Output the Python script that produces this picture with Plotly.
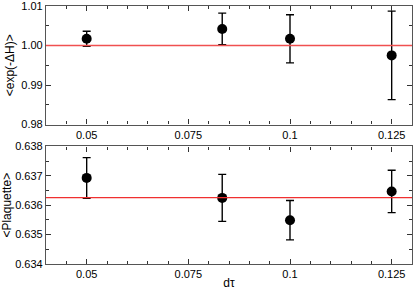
import plotly.graph_objects as go
from plotly.subplots import make_subplots

dtau = [0.05, 1/12, 0.1, 0.125]

exp_dh = [1.0017, 1.0042, 1.0017, 0.9975]
exp_dh_err = [0.0019, 0.0040, 0.0061, 0.0112]
exp_dh_ref = 1.0

plaq = [0.63693, 0.63625, 0.63549, 0.63647]
plaq_err = [0.00069, 0.00080, 0.00067, 0.00072]
plaq_ref = 0.63626

fnt = 'Liberation Sans, Arial, sans-serif'

fig = make_subplots(rows=2, cols=1)

for row, y, err in [(1, exp_dh, exp_dh_err), (2, plaq, plaq_err)]:
    fig.add_trace(go.Scatter(
        x=dtau, y=y, mode='markers',
        marker=dict(color='black', size=10),
        error_y=dict(type='data', array=err, color='black', thickness=1.4, width=4),
        showlegend=False), row=row, col=1)

fig.add_hline(y=exp_dh_ref, line=dict(color='#f05050', width=1.5), row=1, col=1)
fig.add_hline(y=plaq_ref, line=dict(color='#f03030', width=1.2), row=2, col=1)

xax = dict(range=[0.04, 0.13], tickvals=[0.05, 0.075, 0.1, 0.125], ticktext=['0.05', '0.075', '0.1', '0.125'],
           ticks='inside', ticklen=5, tickcolor='#333', showline=True, linecolor='#555', linewidth=1.2,
           mirror='ticks', showgrid=False, zeroline=False, automargin=False,
           minor=dict(ticks='inside', dtick=0.005, tick0=0.05, ticklen=3, tickcolor='#333'),
           tickfont=dict(size=11, color='black', family=fnt))
yax = dict(ticks='inside', ticklen=5, tickcolor='#333', showline=True, linecolor='#555', linewidth=1.2,
           mirror='ticks', showgrid=False, zeroline=False, automargin=False, ticklabeloverflow='allow',
           tickfont=dict(size=11, color='black', family=fnt))

fig.update_xaxes(**xax)
fig.update_yaxes(**yax)
fig.update_xaxes(title=dict(text='dτ', font=dict(size=12, family=fnt, color='black'), standoff=2), row=2, col=1)

fig.update_yaxes(range=[0.98, 1.01], dtick=0.01, tickformat='.2f',
                 minor=dict(ticks='inside', dtick=0.005, ticklen=3, tickcolor='#333'),
                 title=dict(text='<exp(-ΔH)>', font=dict(size=12, family=fnt, color='black'), standoff=4),
                 domain=[0.5405, 1.0], row=1, col=1)
fig.update_yaxes(range=[0.634, 0.638], dtick=0.001, tickformat='.3f',
                 minor=dict(ticks='inside', dtick=0.0005, ticklen=3, tickcolor='#333'),
                 title=dict(text='<Plaquette>', font=dict(size=12, family=fnt, color='black'), standoff=4),
                 domain=[0.0, 0.4556], row=2, col=1)

fig.update_layout(width=415, height=290, margin=dict(l=46, r=3, t=6, b=26),
                  plot_bgcolor='white', paper_bgcolor='white',
                  font=dict(family=fnt, color='black'))

# page has a default 8px body margin, drop it so the figure fills the window
fig.write_html("out.html", config={'displayModeBar': False},
               post_script="document.body.style.margin='0';")
